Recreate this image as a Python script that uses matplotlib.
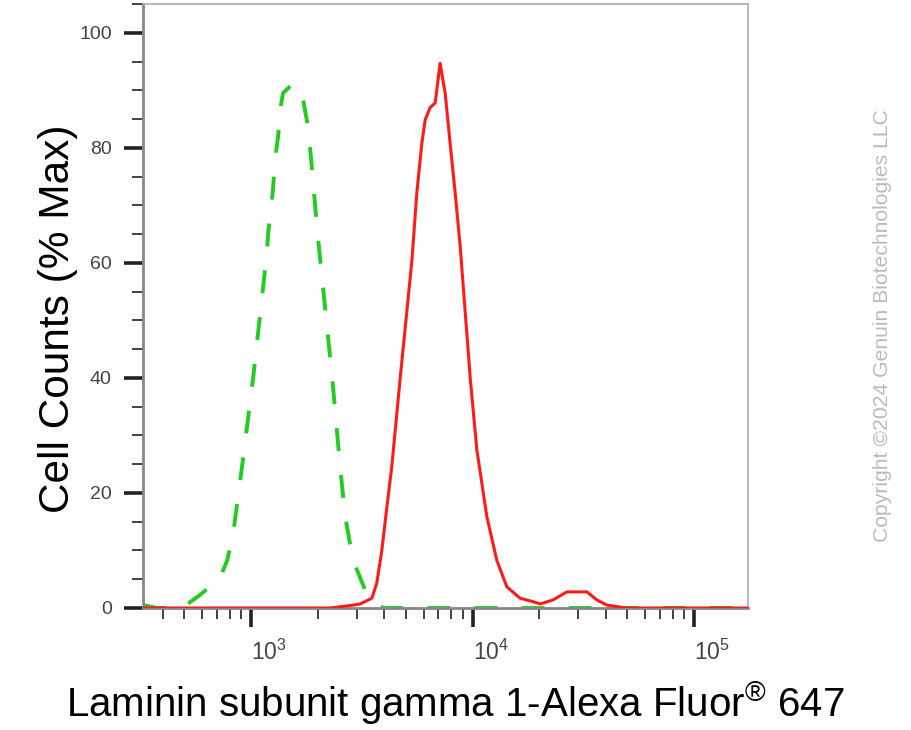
import matplotlib
matplotlib.use("Agg")
import matplotlib.pyplot as plt
from matplotlib.ticker import LogLocator, MultipleLocator, NullFormatter, FixedLocator

plt.rcParams['font.family'] = ['Liberation Sans', 'DejaVu Sans']
plt.rcParams['mathtext.fontset'] = 'custom'
plt.rcParams['mathtext.rm'] = 'Liberation Sans'
plt.rcParams['mathtext.it'] = 'Liberation Sans'

# isotype control (green dashed)
ctrl_x = [325, 377, 488, 589, 724, 780, 830, 910, 1021, 1178, 1194, 1239, 1256, 1282,
          1324, 1352, 1393, 1549, 1718, 1807, 1879, 1982, 2051, 2323, 2523, 2655,
          2884, 3273, 3690, 3945, 175000]
ctrl_y = [0.5, 0, 0, 2.3, 5.2, 8.3, 13, 24.6, 40, 61.7, 65.2, 70.4, 73, 78,
          82, 86.6, 89.5, 91.2, 88.3, 83.6, 76.7, 66.3, 60.5, 40, 24.5, 16,
          8.3, 3.1, 0.8, 0, 0]

# antibody stained sample (red solid)
sample_x = [325, 2275, 2884, 3105, 3508, 3690, 3890, 4102, 4315, 4710, 5321,
            5598, 5902, 6109, 6427, 6776, 7129, 7516, 7907, 8337, 8790, 9750,
            10447, 11588, 12853, 14256, 16368, 18750, 20184, 23067, 26607, 32810,
            36392, 40365, 49659, 175000]
sample_y = [0, 0, 0.5, 0.7, 1.7, 4.3, 10, 17.6, 24.6, 40, 60.5,
            72.2, 80.9, 84.9, 87, 87.8, 94.7, 89.5, 80.9, 72.2, 62.8, 40,
            27.5, 15.9, 8.3, 3.7, 1.7, 1.1, 0.7, 1.4, 2.8, 2.8,
            1.4, 0.5, 0, 0]

y_major = [0, 20, 40, 60, 80, 100]
x_major = [1e3, 1e4, 1e5]
x_labels = ['$10^{3}$', '$10^{4}$', '$10^{5}$']

fig = plt.figure(figsize=(9.12, 7.3), dpi=100)
ax = fig.add_axes([143/912, 1 - 608/730, (748 - 143)/912, (608 - 4)/730])

ax.plot(ctrl_x, ctrl_y, color='#22cc22', lw=2.8, ls=(0, (5.9, 6.2)), zorder=2)
ax.plot(sample_x, sample_y, color='#ff1a1a', lw=2.2, zorder=3)

ax.set_xscale('log')
ax.set_xlim(325, 175000)
ax.set_ylim(0, 105)

ax.xaxis.set_major_locator(FixedLocator(x_major))
ax.set_xticklabels(x_labels, ha='left')
ax.xaxis.set_minor_locator(LogLocator(base=10, subs=range(2, 10), numticks=20))
ax.xaxis.set_minor_formatter(NullFormatter())
ax.yaxis.set_major_locator(FixedLocator(y_major))
ax.yaxis.set_minor_locator(MultipleLocator(5))

ax.tick_params(axis='both', which='major', length=14, width=2.6, color='#222222',
               labelcolor='#444444')
ax.tick_params(axis='both', which='minor', length=8, width=1.3, color='#333333')
ax.tick_params(axis='y', which='major', pad=8.5, labelsize=14)
ax.tick_params(axis='x', which='major', pad=9, labelsize=16.5)

for s in ['left', 'bottom']:
    ax.spines[s].set_color('#888888')
    ax.spines[s].set_linewidth(2)
for s in ['top', 'right']:
    ax.spines[s].set_color('#aaaaaa')
    ax.spines[s].set_linewidth(1.2)

fig.text(58/912, 1 - 319/730, 'Cell Counts (% Max)', rotation=90, fontsize=30.5,
         ha='center', va='center')
fig.text(455/912, 1 - 703/730, 'Laminin subunit gamma 1-Alexa Fluor$^{®}$ 647',
         fontsize=29, ha='center', va='center')
fig.text(883/912, 1 - 326/730, 'Copyright ©2024 Genuin Biotechnologies LLC',
         rotation=90, fontsize=15.2, color='#bbbbbb', ha='center', va='center')

fig.savefig('out.png', dpi=100)
